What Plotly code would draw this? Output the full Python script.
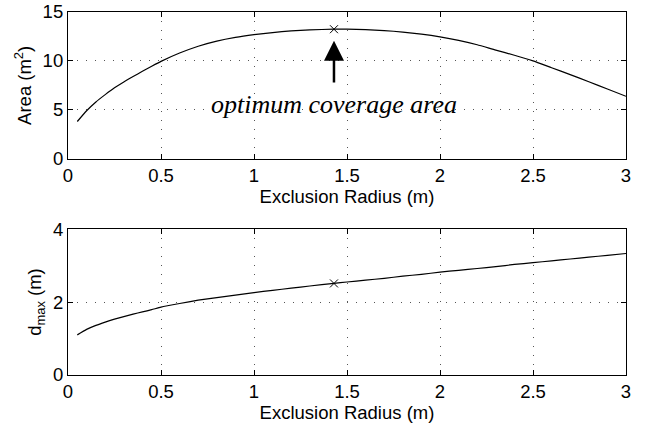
import plotly.graph_objects as go

# Exclusion radius samples (m)
radius = [0.05, 0.1, 0.15, 0.2, 0.25, 0.3, 0.35, 0.4, 0.45, 0.5, 0.6, 0.7, 0.8, 0.9, 1.0,
          1.1, 1.2, 1.3, 1.43, 1.5, 1.6, 1.7, 1.8, 1.9, 2.0, 2.1, 2.2, 2.3, 2.4, 2.5,
          2.6, 2.7, 2.8, 2.9, 3.0]
# Coverage area (m^2)
area = [3.8, 4.9, 5.8, 6.55, 7.25, 7.85, 8.4, 8.93, 9.45, 9.95, 10.8, 11.5, 12.02, 12.4, 12.68,
        12.9, 13.06, 13.17, 13.24, 13.24, 13.2, 13.1, 12.95, 12.74, 12.46, 12.1, 11.65, 11.1, 10.58, 10.0,
        9.3, 8.6, 7.87, 7.12, 6.38]
# Maximum distance d_max (m)
dmax = [1.10, 1.25, 1.36, 1.45, 1.53, 1.60, 1.67, 1.73, 1.79, 1.86, 1.96, 2.05, 2.12, 2.19, 2.26,
        2.32, 2.38, 2.44, 2.51, 2.55, 2.60, 2.65, 2.71, 2.76, 2.82, 2.87, 2.92, 2.97, 3.03, 3.08,
        3.13, 3.18, 3.23, 3.28, 3.33]

opt_radius = 1.43
opt_area = 13.24
opt_dmax = 2.51
arrow_tail = 7.8
arrow_shaft_end = 11.0
arrow_tip = 12.05
label_y = 5.5
label_text = "optimum coverage area"

x_ticks = [0, 0.5, 1, 1.5, 2, 2.5, 3]
x_ticktext = ["0", "0.5", "1", "1.5", "2", "2.5", "3"]
top_yticks = [0, 5, 10, 15]
bot_yticks = [0, 2, 4]

FONT = "Liberation Sans, Arial, Helvetica, sans-serif"
TICK_SIZE = 18.5
TITLE_SIZE = 18.5

fig = go.Figure()
fig.add_trace(go.Scatter(x=radius, y=area, mode="lines",
                         line=dict(color="black", width=1.2, shape="spline", smoothing=0.5),
                         xaxis="x", yaxis="y", showlegend=False, hoverinfo="skip"))
fig.add_trace(go.Scatter(x=[opt_radius], y=[opt_area], mode="markers",
                         marker=dict(symbol="x-thin-open", size=8, color="black",
                                     line=dict(color="black", width=1)),
                         xaxis="x", yaxis="y", showlegend=False))
fig.add_trace(go.Scatter(x=radius, y=dmax, mode="lines",
                         line=dict(color="black", width=1.2, shape="spline", smoothing=0.5),
                         xaxis="x2", yaxis="y2", showlegend=False, hoverinfo="skip"))
fig.add_trace(go.Scatter(x=[opt_radius], y=[opt_dmax], mode="markers",
                         marker=dict(symbol="x-thin-open", size=8, color="black",
                                     line=dict(color="black", width=1)),
                         xaxis="x2", yaxis="y2", showlegend=False))

# annotation arrow: shaft + filled head
fig.add_trace(go.Scatter(x=[opt_radius, opt_radius], y=[arrow_tail, arrow_shaft_end], mode="lines",
                         line=dict(color="black", width=2.5), xaxis="x", yaxis="y",
                         showlegend=False, hoverinfo="skip"))
fig.add_trace(go.Scatter(x=[opt_radius], y=[arrow_tip], mode="markers",
                         marker=dict(symbol="arrow-up", size=20, color="black", line=dict(width=0)),
                         xaxis="x", yaxis="y", showlegend=False, hoverinfo="skip"))

axis_common = dict(showline=True, linecolor="black", linewidth=1.2, mirror="ticks",
                   ticks="inside", ticklen=5, tickcolor="black", automargin=False,
                   showgrid=True, gridcolor="#555", griddash="1px,8px", gridwidth=1,
                   zeroline=False, tickfont=dict(family=FONT, size=TICK_SIZE, color="black"))

fig.update_layout(
    width=651, height=425,
    margin=dict(l=68, r=25, t=12, b=50),
    paper_bgcolor="white", plot_bgcolor="white",
    font=dict(family=FONT, size=TICK_SIZE, color="black"),
    xaxis=dict(domain=[0, 1], range=[0, 3], tickvals=x_ticks, ticktext=x_ticktext, anchor="y",
               title=dict(text="Exclusion Radius (m)", standoff=0, font=dict(size=TITLE_SIZE)), **axis_common),
    yaxis=dict(domain=[0.596, 1], range=[0, 15], tickvals=top_yticks, anchor="x",
               title=dict(text="Area (m<sup>2</sup>)", standoff=6, font=dict(size=TITLE_SIZE)), **axis_common),
    xaxis2=dict(domain=[0, 1], range=[0, 3], tickvals=x_ticks, ticktext=x_ticktext, anchor="y2",
                title=dict(text="Exclusion Radius (m)", standoff=0, font=dict(size=TITLE_SIZE)), **axis_common),
    yaxis2=dict(domain=[0, 0.402], range=[0, 4], tickvals=bot_yticks, anchor="x2",
                title=dict(text="d<sub>max</sub> (m)", standoff=6, font=dict(size=TITLE_SIZE)), **axis_common),
)

fig.add_annotation(x=opt_radius, y=label_y, xref="x", yref="y", showarrow=False,
                   text="<i>" + label_text + "</i>",
                   font=dict(family="Liberation Serif, Times New Roman, serif", size=26, color="black"))

fig.write_html("out.html")
